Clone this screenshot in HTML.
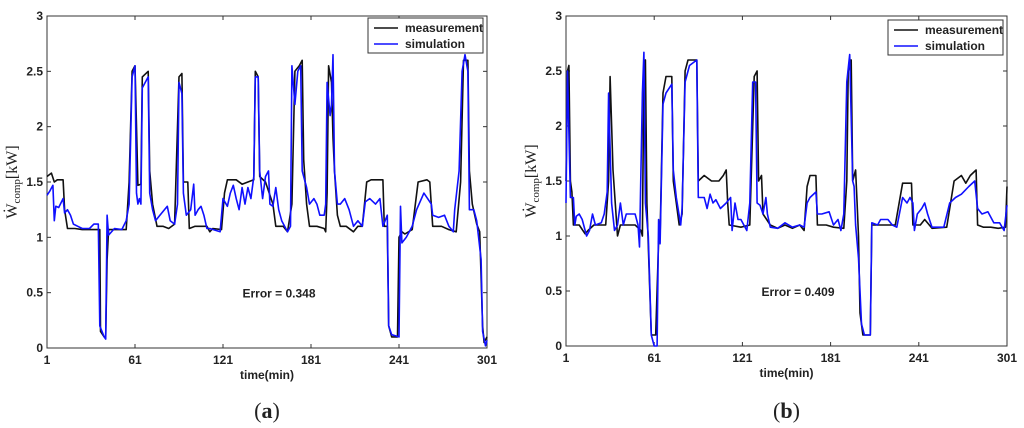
<!DOCTYPE html>
<html><head><meta charset="utf-8"><style>
body{margin:0;background:#fff;width:1024px;height:428px;overflow:hidden}
svg{display:block}
text{font-family:"Liberation Sans",sans-serif;font-weight:bold;font-size:12px;fill:#222}
</style></head><body>
<svg id="svg" width="1024" height="428"></svg>
<script>
const xTicks=[1,61,121,181,241,301];
const yTicks=[0,0.5,1,1.5,2,2.5,3];
const yTickLabels=["0","0.5","1","1.5","2","2.5","3"];
const measA_t=[1,4,6,8,12,13,15,20,25,37,37.5,40,41,42,43,55,57,59,61,62,63,65,66,70,71,73,76,80,84,88,91,93,94,97,98,102,106,110,112,114,120,122,124,130,134,138,142,143,145,146,150,155,157,162,165,168,170,173,175,176,178,180,185,190,191,192,193,195,196,197,199,201,205,210,213,216,219,222,230,231,233,234,236,240,241,243,245,250,254,260,262,264,270,275,280,283,285,288,289,291,294,296,298,299,301];
const measA_v=[1.55,1.58,1.5,1.52,1.52,1.25,1.08,1.08,1.07,1.07,0.15,0.1,0.1,0.8,1.07,1.07,1.5,2.5,2.55,2.0,1.47,1.48,2.45,2.5,1.6,1.3,1.1,1.1,1.08,1.12,2.45,2.48,1.5,1.5,1.08,1.1,1.1,1.1,1.05,1.08,1.07,1.4,1.52,1.52,1.48,1.5,1.52,2.5,2.45,1.55,1.5,1.3,1.1,1.1,1.05,1.3,2.5,2.55,2.6,1.7,1.3,1.1,1.1,1.08,1.05,1.4,2.55,2.4,1.9,1.6,1.2,1.1,1.1,1.05,1.1,1.1,1.5,1.52,1.52,1.1,1.1,0.2,0.1,0.1,1.0,1.05,1.03,1.07,1.5,1.52,1.5,1.1,1.1,1.07,1.05,1.5,2.6,2.6,1.6,1.3,1.12,1.05,0.2,0.05,0.1];
const simA_t=[1,3,5,6,7,9,12,13,15,17,19,22,25,30,33,36,37,40,41,42,43,47,52,55,57,59,61,62,63,64,65,66,70,71,73,75,78,83,85,88,90,91,93,94,96,99,101,102,104,106,108,110,112,119,121,124,126,128,130,132,134,136,138,140,142,143,145,146,148,150,152,153,155,157,159,161,163,165,167,168,170,172,174,175,178,180,183,185,187,190,191,192,194,195,196,197,199,201,204,207,210,213,216,218,221,225,228,230,233,234,236,241,242,243,246,250,253,258,263,264,268,272,275,278,279,282,284,286,288,289,292,294,297,298,300,301];
const simA_v=[1.38,1.42,1.47,1.15,1.28,1.27,1.35,1.22,1.25,1.2,1.12,1.1,1.08,1.08,1.12,1.12,0.2,0.1,0.08,1.2,1.02,1.08,1.07,1.15,1.3,2.45,2.55,1.4,1.3,1.35,1.3,2.35,2.45,1.4,1.25,1.15,1.2,1.28,1.15,1.12,1.3,2.4,2.3,1.4,1.2,1.25,1.48,1.2,1.25,1.28,1.2,1.08,1.08,1.05,1.35,1.28,1.4,1.47,1.35,1.25,1.45,1.3,1.45,1.35,1.55,2.45,2.45,1.6,1.35,1.55,1.6,1.3,1.28,1.45,1.25,1.15,1.1,1.05,1.1,2.55,2.2,2.5,2.55,1.6,1.45,1.3,1.35,1.3,1.2,1.2,1.3,2.4,2.1,2.2,2.65,1.6,1.3,1.3,1.35,1.25,1.1,1.15,1.1,1.32,1.35,1.3,1.35,1.1,1.2,0.2,0.12,0.1,1.28,0.95,1.0,1.1,1.25,1.4,1.3,1.2,1.18,1.2,1.1,1.05,1.25,1.6,2.5,2.65,2.5,1.25,1.25,1.15,0.8,0.15,0.02,0.07];
const measB_t=[1,2,3,4,5,6,10,14,16,20,28,30,31,33,35,36,38,48,52,53,54,55,56,58,59,62,64,65,67,69,73,74,76,78,80,82,84,90,91,95,100,105,108,110,111,112,120,126,129,131,132,134,135,140,145,150,155,160,163,165,167,171,172,178,183,190,192,193,195,196,198,199,200,201,203,208,209,213,220,225,230,236,237,242,245,250,260,265,270,273,276,280,281,285,290,295,300,301];
const measB_v=[1.5,2.5,2.55,1.5,1.4,1.1,1.1,1.02,1.05,1.1,1.1,1.5,2.45,1.6,1.2,1.0,1.1,1.1,1.05,1.0,2.55,2.6,1.3,0.5,0.1,0.1,0.95,1.0,2.3,2.45,2.45,1.5,1.3,1.1,1.2,2.5,2.6,2.6,1.5,1.55,1.5,1.5,1.55,1.6,1.3,1.1,1.08,1.1,2.45,2.5,1.5,1.55,1.2,1.1,1.07,1.1,1.07,1.1,1.05,1.45,1.55,1.55,1.1,1.1,1.08,1.07,1.5,2.5,2.6,1.5,1.6,1.3,1.0,0.3,0.1,0.1,1.1,1.1,1.1,1.1,1.48,1.48,1.1,1.1,1.15,1.07,1.08,1.5,1.55,1.48,1.55,1.6,1.1,1.08,1.08,1.07,1.08,1.45];
const simB_t=[1,2,4,6,7,8,10,12,15,17,19,21,25,27,29,30,32,34,36,38,40,42,45,48,50,51,53,54,55,57,59,61,63,64,65,67,69,73,74,76,79,80,82,85,90,91,95,97,99,101,103,106,110,113,114,116,118,120,124,126,128,130,131,133,135,137,138,140,145,150,155,160,163,165,167,171,172,175,180,183,186,188,190,192,194,196,197,198,200,202,204,208,209,213,215,220,223,226,230,233,235,237,238,240,243,245,247,250,258,262,266,270,275,279,281,284,288,292,296,299,301];
const simB_v=[1.3,2.5,1.35,1.35,1.1,1.18,1.2,1.15,1.0,1.05,1.2,1.1,1.12,1.2,1.4,2.3,1.3,1.05,1.1,1.3,1.1,1.2,1.2,1.2,1.1,0.9,2.3,2.67,1.3,1.0,0.1,0.0,0.0,1.15,0.93,2.2,2.3,2.38,1.6,1.35,1.1,1.25,2.4,2.55,2.6,1.35,1.35,1.25,1.38,1.3,1.33,1.25,1.3,1.35,1.05,1.3,1.15,1.15,1.05,1.3,2.4,2.4,1.3,1.28,1.2,1.35,1.2,1.08,1.07,1.12,1.08,1.1,1.08,1.3,1.35,1.4,1.2,1.2,1.22,1.1,1.15,1.05,1.2,2.4,2.65,1.5,1.45,1.1,0.8,0.2,0.1,0.1,1.12,1.1,1.15,1.15,1.1,1.08,1.35,1.3,1.35,1.3,1.05,1.2,1.25,1.3,1.2,1.08,1.08,1.3,1.35,1.38,1.45,1.5,1.25,1.2,1.22,1.12,1.12,1.05,1.28];

const NS="http://www.w3.org/2000/svg";
const svg=document.getElementById('svg');
function mk(tag,attrs,parent){const e=document.createElementNS(NS,tag);for(const k in attrs)e.setAttribute(k,attrs[k]);(parent||svg).appendChild(e);return e;}

function panel(cfg){
  const g=mk('g',{});
  
  
  const xs=t=>cfg.x0+(t-1)/300*(cfg.x1-cfg.x0);
  const ys=v=>cfg.yb+(v)/3*(cfg.yt-cfg.yb);
  const fr=mk('rect',{x:cfg.x0,y:cfg.yt,width:cfg.x1-cfg.x0,height:cfg.yb-cfg.yt,fill:'#fff',stroke:'#333','stroke-width':1},g);
  
  
  xTicks.forEach(t=>{
    const x=xs(t);
    mk('line',{x1:x,x2:x,y1:cfg.yb,y2:cfg.yb-4,stroke:'#333'},g);
    mk('line',{x1:x,x2:x,y1:cfg.yt,y2:cfg.yt+4,stroke:'#333'},g);
    const tx=mk('text',{x:x,y:cfg.yb+16,'text-anchor':'middle'},g);tx.textContent=t;
    
    
  });
  yTicks.forEach((v,i)=>{
    const y=ys(v);
    mk('line',{x1:cfg.x0,x2:cfg.x0+4,y1:y,y2:y,stroke:'#333'},g);
    mk('line',{x1:cfg.x1,x2:cfg.x1-4,y1:y,y2:y,stroke:'#333'},g);
    const tx=mk('text',{x:cfg.x0-4,y:y+4,'text-anchor':'end'},g);tx.textContent=yTickLabels[i];
    
    
  });
  const xt=mk('text',{x:(cfg.x0+cfg.x1)/2,y:cfg.yb+31,'text-anchor':'middle'},g);xt.textContent='time(min)';
  
  
  const yt=mk('text',{transform:`translate(${cfg.x0-30},${(cfg.yt+cfg.yb)/2}) rotate(-90)`,'text-anchor':'middle',style:'font-family:"Liberation Serif",serif;font-weight:normal;font-size:16px'},g);
  yt.innerHTML='Ẇ<tspan dy="3" style="font-size:11px">comp</tspan><tspan dy="-3">[kW]</tspan>';
  
  
  const line=(ts,vs,col,nm)=>{
    const p=mk('polyline',{points:ts.map((t,i)=>xs(t).toFixed(1)+','+ys(vs[i]).toFixed(1)).join(' '),fill:'none',stroke:col,'stroke-width':1.6,'stroke-linejoin':'round'},g);
    
    
  };
  line(cfg.mt,cfg.mv,'#111','measurement-line');
  line(cfg.st,cfg.sv,'#1010ff','simulation-line');
  const lg=mk('g',{},g);
  
  
  mk('rect',{x:cfg.lx,y:cfg.ly,width:115,height:35,fill:'#fff',stroke:'#333'},lg);
  mk('line',{x1:cfg.lx+6,x2:cfg.lx+30,y1:cfg.ly+10,y2:cfg.ly+10,stroke:'#111','stroke-width':1.6},lg);
  mk('line',{x1:cfg.lx+6,x2:cfg.lx+30,y1:cfg.ly+26,y2:cfg.ly+26,stroke:'#1010ff','stroke-width':1.6},lg);
  const l1=mk('text',{x:cfg.lx+37,y:cfg.ly+14},lg);l1.textContent='measurement';
  
  
  const l2=mk('text',{x:cfg.lx+37,y:cfg.ly+30},lg);l2.textContent='simulation';
  
  
  const et=mk('text',{x:cfg.ex,y:ys(0.5)+5,'text-anchor':'middle'},g);et.textContent=cfg.err;
  
  
  const cp=mk('text',{x:(cfg.x0+cfg.x1)/2,y:418,'text-anchor':'middle',style:'font-family:"Liberation Serif",serif;font-size:22px;font-weight:normal'},g);
  cp.innerHTML='(<tspan style="font-weight:bold">'+cfg.cap+'</tspan>)';
  
  
}
panel({name:'chart-a',x0:47,x1:487,yt:16,yb:348,mt:measA_t,mv:measA_v,st:simA_t,sv:simA_v,lx:368,ly:18,ex:279,err:'Error = 0.348',cap:'a'});
panel({name:'chart-b',x0:566,x1:1007,yt:16,yb:346,mt:measB_t,mv:measB_v,st:simB_t,sv:simB_v,lx:888,ly:20,ex:798,err:'Error = 0.409',cap:'b'});
</script>
</body></html>
